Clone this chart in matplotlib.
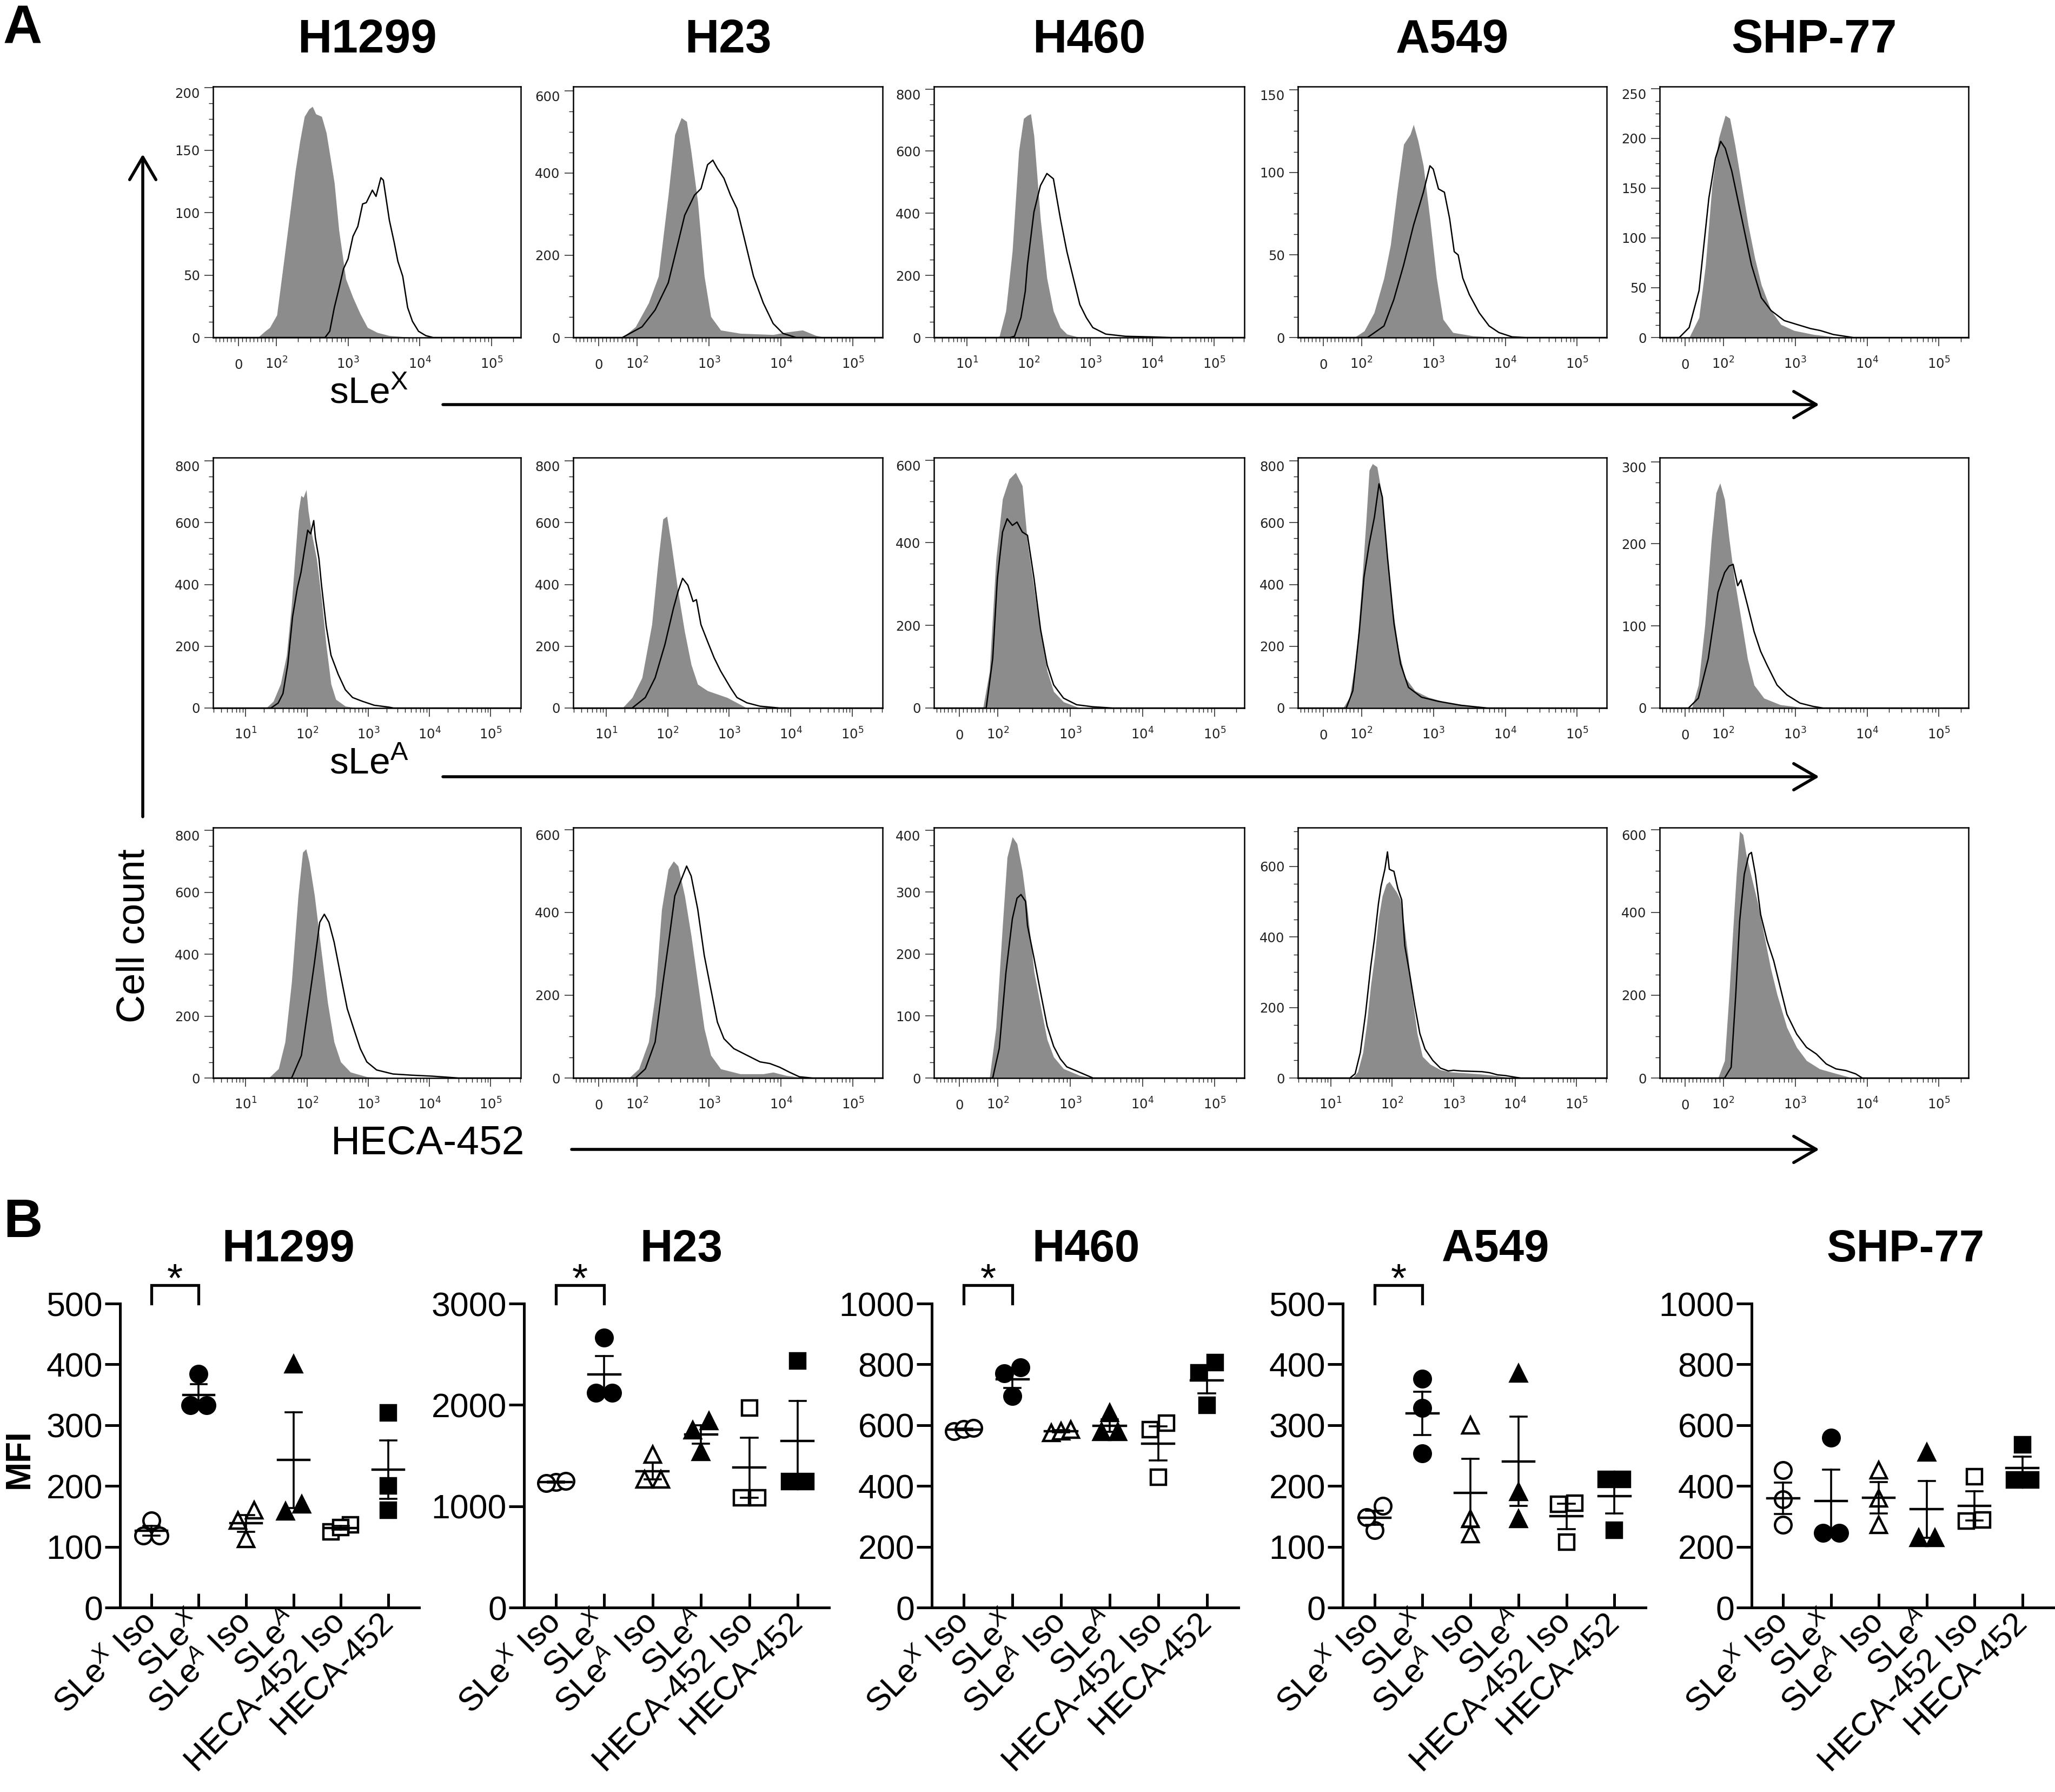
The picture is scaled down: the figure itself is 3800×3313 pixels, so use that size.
import numpy as np
import matplotlib
matplotlib.use("Agg")
import matplotlib.pyplot as plt
from matplotlib.patches import FancyArrowPatch

plt.rcParams['font.family'] = ['Liberation Sans', 'DejaVu Sans']
plt.rcParams['mathtext.fontset'] = 'custom'
plt.rcParams['mathtext.rm'] = 'Liberation Sans'
plt.rcParams['mathtext.it'] = 'Liberation Sans:italic'
plt.rcParams['mathtext.bf'] = 'Liberation Sans:bold'

# ================================================
# Data: flow histograms (x in decades, y = cell count)
# ================================================
cell_lines = ["H1299", "H23", "H460", "A549", "SHP-77"]
stains = ["sLe$^{\\mathrm{X}}$", "sLe$^{\\mathrm{A}}$", "HECA-452"]

# row 1 - sLeX
h1299_slex_iso_x = [1.74, 1.84, 1.907, 2.006, 2.103, 2.199, 2.263, 2.327, 2.391, 2.455, 2.503, 2.551, 2.631, 2.696, 2.744, 2.808, 2.872, 2.968, 3.068, 3.169, 3.271, 3.407, 3.576, 3.915]
h1299_slex_iso_y = [0, 5, 8, 18, 61, 104, 133, 157, 177, 183, 185, 179, 177, 164, 147, 124, 86, 47, 32, 19, 8, 4, 1.5, 0]
h1299_slex_x = [2.679, 2.744, 2.808, 2.872, 2.936, 3.0, 3.068, 3.136, 3.203, 3.254, 3.288, 3.339, 3.39, 3.458, 3.492, 3.576, 3.644, 3.695, 3.763, 3.831, 3.898, 3.983, 4.085, 4.186]
h1299_slex_y = [0, 5, 24, 39, 55, 63, 81, 89, 107, 108, 112, 118, 113, 128, 126, 94, 76, 61, 49, 24, 13, 5, 1.5, 0]
h23_slex_iso_x = [1.798, 1.98, 2.162, 2.299, 2.435, 2.526, 2.617, 2.69, 2.753, 2.844, 2.935, 3.026, 3.163, 3.436, 3.891, 4.073, 4.3, 4.482, 4.618]
h23_slex_iso_y = [0, 26, 84, 149, 346, 493, 534, 525, 451, 330, 149, 51, 18, 10, 7, 13, 18, 5, 0]
h23_slex_x = [1.798, 2.071, 2.253, 2.435, 2.572, 2.663, 2.799, 2.89, 2.981, 3.054, 3.117, 3.208, 3.299, 3.39, 3.481, 3.618, 3.754, 3.891, 4.027, 4.209]
h23_slex_y = [0, 26, 67, 133, 231, 297, 346, 362, 420, 431, 411, 387, 346, 313, 248, 149, 84, 34, 10, 0]
h460_slex_iso_x = [1.45, 1.525, 1.63, 1.735, 1.84, 1.918, 1.98, 2.033, 2.085, 2.19, 2.295, 2.4, 2.513, 2.618, 2.828]
h460_slex_iso_y = [0, 4, 85, 277, 600, 705, 715, 720, 650, 383, 191, 85, 32, 11, 0]
h460_slex_x = [1.7, 1.77, 1.875, 1.945, 1.98, 2.085, 2.19, 2.295, 2.4, 2.513, 2.618, 2.723, 2.828, 2.933, 3.038, 3.248, 3.565, 3.985, 4.3]
h460_slex_y = [0, 4, 64, 149, 234, 404, 489, 528, 511, 383, 277, 191, 106, 64, 32, 11, 4, 2, 0]
a549_slex_iso_x = [1.902, 2.039, 2.176, 2.313, 2.404, 2.496, 2.587, 2.678, 2.724, 2.788, 2.861, 2.952, 3.044, 3.135, 3.272, 3.546, 3.911]
a549_slex_iso_y = [0, 4, 15, 36, 56, 88, 117, 123, 129, 119, 104, 72, 36, 11, 3, 1, 0]
a549_slex_x = [2.084, 2.313, 2.45, 2.587, 2.724, 2.861, 2.952, 2.998, 3.071, 3.153, 3.226, 3.29, 3.345, 3.409, 3.5, 3.637, 3.775, 3.912, 4.094, 4.277]
a549_slex_y = [0, 7, 23, 44, 68, 88, 104, 102, 90, 88, 72, 52, 50, 36, 26, 15, 7, 3, 0.4, 0]
shp77_slex_iso_x = [1.526, 1.663, 1.754, 1.845, 1.937, 2.028, 2.092, 2.164, 2.256, 2.347, 2.438, 2.529, 2.666, 2.803, 2.985, 3.258, 3.623]
shp77_slex_iso_y = [0, 20, 73, 153, 200, 223, 220, 193, 153, 113, 80, 53, 27, 13, 7, 3, 0]
shp77_slex_x = [1.389, 1.526, 1.663, 1.8, 1.891, 1.964, 2.028, 2.119, 2.256, 2.392, 2.529, 2.666, 2.848, 3.03, 3.213, 3.35, 3.532, 3.806]
shp77_slex_y = [0, 10, 47, 140, 180, 197, 190, 167, 120, 73, 40, 27, 17, 13, 9, 7, 3, 0]

# row 2 - sLeA
h1299_slea_iso_x = [1.333, 1.451, 1.569, 1.667, 1.745, 1.804, 1.863, 1.902, 1.941, 1.988, 2.02, 2.078, 2.157, 2.235, 2.314, 2.392, 2.471, 2.627, 2.824]
h1299_slea_iso_y = [0, 22, 78, 171, 327, 483, 639, 688, 682, 707, 639, 564, 483, 358, 202, 78, 28, 6, 0]
h1299_slea_x = [1.412, 1.529, 1.608, 1.686, 1.765, 1.843, 1.902, 1.961, 2.012, 2.059, 2.11, 2.137, 2.196, 2.235, 2.314, 2.392, 2.51, 2.627, 2.745, 2.902, 3.098, 3.333, 3.412]
h1299_slea_y = [0, 16, 47, 140, 296, 389, 439, 514, 576, 564, 607, 551, 483, 402, 265, 171, 109, 59, 34, 22, 9, 3, 0]
h23_slea_iso_x = [1.265, 1.424, 1.584, 1.743, 1.85, 1.924, 1.988, 2.062, 2.169, 2.275, 2.382, 2.488, 2.648, 2.807, 2.966, 3.126, 3.286]
h23_slea_iso_y = [0, 34, 98, 270, 484, 612, 621, 527, 377, 248, 141, 77, 56, 45, 34, 17, 0]
h23_slea_x = [1.424, 1.637, 1.797, 1.956, 2.094, 2.169, 2.243, 2.328, 2.413, 2.467, 2.541, 2.647, 2.754, 2.86, 3.02, 3.126, 3.286, 3.498, 3.817]
h23_slea_y = [0, 34, 98, 206, 323, 377, 420, 398, 345, 351, 270, 216, 163, 120, 66, 34, 17, 6, 0]
h460_slea_iso_x = [1.794, 1.884, 1.975, 2.065, 2.156, 2.246, 2.338, 2.41, 2.501, 2.591, 2.682, 2.772, 2.908, 3.135]
h460_slea_iso_y = [0, 88, 361, 506, 554, 570, 538, 400, 290, 180, 90, 40, 15, 0]
h460_slea_x = [1.839, 1.929, 1.993, 2.065, 2.129, 2.201, 2.265, 2.338, 2.41, 2.501, 2.591, 2.682, 2.772, 2.908, 3.09, 3.316, 3.588]
h460_slea_y = [0, 120, 313, 426, 458, 442, 450, 426, 418, 313, 190, 104, 56, 24, 8, 3, 0]
a549_slea_iso_x = [1.744, 1.835, 1.926, 1.998, 2.062, 2.108, 2.153, 2.217, 2.29, 2.362, 2.426, 2.517, 2.608, 2.744, 2.926, 3.199, 3.563, 3.927]
a549_slea_iso_y = [0, 35, 164, 380, 597, 770, 791, 781, 683, 489, 337, 186, 99, 56, 35, 17, 6, 0]
a549_slea_x = [1.789, 1.88, 1.971, 2.035, 2.108, 2.18, 2.244, 2.29, 2.362, 2.453, 2.544, 2.653, 2.835, 3.063, 3.381, 3.745]
a549_slea_y = [0, 56, 251, 424, 532, 618, 726, 683, 489, 272, 143, 67, 35, 22, 9, 0]
shp77_slea_iso_x = [1.563, 1.654, 1.745, 1.836, 1.9, 1.955, 2.019, 2.082, 2.155, 2.247, 2.338, 2.429, 2.566, 2.794, 3.158]
shp77_slea_iso_y = [0, 28, 101, 206, 262, 274, 254, 206, 157, 109, 60, 28, 12, 4, 0]
shp77_slea_x = [1.517, 1.654, 1.791, 1.927, 2.019, 2.082, 2.137, 2.201, 2.247, 2.338, 2.429, 2.52, 2.611, 2.748, 2.885, 3.067, 3.249, 3.386]
shp77_slea_y = [0, 12, 60, 141, 165, 173, 175, 149, 156, 125, 93, 69, 52, 28, 16, 6, 2, 0]

# row 3 - HECA-452
h1299_heca_iso_x = [1.375, 1.535, 1.642, 1.749, 1.856, 1.93, 1.984, 2.037, 2.123, 2.229, 2.336, 2.443, 2.55, 2.71, 2.977, 3.404]
h1299_heca_iso_y = [0, 30, 116, 310, 589, 729, 740, 697, 589, 417, 245, 116, 52, 19, 4, 0]
h1299_heca_x = [1.749, 1.909, 2.016, 2.123, 2.208, 2.283, 2.358, 2.443, 2.55, 2.657, 2.763, 2.87, 2.977, 3.137, 3.404, 3.725, 4.045, 4.472]
h1299_heca_y = [0, 73, 224, 374, 503, 529, 503, 439, 331, 224, 159, 95, 52, 26, 13, 9, 6, 0]
h23_heca_iso_x = [1.889, 2.026, 2.162, 2.253, 2.344, 2.435, 2.508, 2.572, 2.663, 2.753, 2.844, 2.935, 3.026, 3.163, 3.436, 3.754, 3.891, 4.073, 4.345]
h23_heca_iso_y = [0, 22, 87, 199, 408, 504, 524, 512, 440, 344, 231, 119, 55, 22, 10, 10, 14, 6, 0]
h23_heca_x = [1.98, 2.117, 2.253, 2.362, 2.453, 2.526, 2.617, 2.69, 2.753, 2.844, 2.935, 3.026, 3.117, 3.208, 3.345, 3.527, 3.709, 3.845, 3.982, 4.118, 4.254, 4.436]
h23_heca_y = [0, 22, 87, 231, 344, 440, 480, 512, 488, 408, 296, 215, 135, 95, 71, 55, 39, 35, 26, 14, 3, 0]
h460_heca_iso_x = [1.884, 1.975, 2.065, 2.129, 2.201, 2.265, 2.338, 2.41, 2.501, 2.591, 2.682, 2.772, 2.908, 3.135, 3.316]
h460_heca_iso_y = [0, 81, 246, 356, 389, 378, 334, 270, 171, 116, 62, 34, 15, 4, 0]
h460_heca_x = [1.929, 2.02, 2.111, 2.201, 2.265, 2.32, 2.383, 2.41, 2.501, 2.591, 2.682, 2.772, 2.863, 2.954, 3.135, 3.316]
h460_heca_y = [0, 48, 169, 257, 290, 296, 285, 246, 193, 138, 84, 51, 31, 18, 9, 0]
a549_heca_iso_x = [1.356, 1.44, 1.524, 1.587, 1.651, 1.714, 1.777, 1.84, 1.903, 1.954, 2.008, 2.072, 2.135, 2.198, 2.261, 2.324, 2.408, 2.493, 2.619, 2.787, 2.956, 3.377, 3.629, 3.798, 4.008]
a549_heca_iso_y = [0, 17, 72, 153, 261, 343, 451, 516, 549, 557, 543, 527, 505, 429, 343, 234, 126, 61, 39, 23, 17, 12, 8, 4, 0]
a549_heca_x = [1.314, 1.398, 1.482, 1.566, 1.651, 1.714, 1.777, 1.819, 1.882, 1.924, 1.954, 1.987, 2.029, 2.093, 2.156, 2.206, 2.282, 2.366, 2.451, 2.535, 2.661, 2.787, 2.914, 2.998, 3.124, 3.461, 3.587, 3.714, 3.84, 4.008, 4.093]
a549_heca_y = [0, 12, 72, 180, 315, 397, 494, 543, 592, 641, 592, 589, 586, 537, 505, 375, 299, 207, 126, 82, 50, 28, 20, 22, 20, 18, 15, 9, 7, 2, 0]
shp77_heca_iso_x = [1.927, 2.019, 2.082, 2.137, 2.183, 2.228, 2.274, 2.319, 2.383, 2.474, 2.566, 2.657, 2.748, 2.885, 3.021, 3.158, 3.341, 3.523, 3.796]
shp77_heca_iso_y = [0, 42, 202, 363, 492, 596, 588, 540, 492, 427, 347, 267, 202, 122, 74, 42, 22, 13, 0]
shp77_heca_x = [2.019, 2.11, 2.174, 2.228, 2.292, 2.356, 2.392, 2.447, 2.52, 2.611, 2.702, 2.794, 2.885, 3.021, 3.158, 3.295, 3.432, 3.568, 3.705, 3.842, 3.933]
shp77_heca_y = [0, 26, 202, 379, 492, 540, 545, 492, 395, 331, 283, 218, 154, 106, 74, 58, 34, 22, 18, 10, 0]

# axis type and y ticks of each histogram (rows = stains, cols = cell lines)
hist_scale = [["biex", "biex", "log", "biex", "biex"],
              ["log", "log", "biex", "biex", "biex"],
              ["log", "biex", "biex", "log", "biex"]]
hist_ymax = [[200, 600, 800, 150, 250],
             [800, 800, 600, 800, 300],
             [800, 600, 400, 600, 600]]
hist_ystep = [[50, 200, 200, 50, 50],
              [200, 200, 200, 200, 100],
              [200, 200, 100, 200, 200]]
hist_ytop = [[201, 610, 808, 152, 252],
             [811, 811, 606, 811, 305],
             [809, 605, 404, 710, 605]]

# ================================================
# Data: MFI (three experiments per group)
# ================================================
groups = ["SLe$^{\\mathit{X}}$ Iso", "SLe$^{\\mathit{X}}$", "SLe$^{\\mathit{A}}$ Iso",
          "SLe$^{\\mathit{A}}$", "HECA-452 Iso", "HECA-452"]
mfi_h1299 = [[143, 118, 118], [384, 333, 333], [160, 143, 113], [400, 158, 170], [136, 125, 132], [320, 200, 160]]
mfi_h23 = [[1240, 1230, 1250], [2665, 2120, 2120], [1510, 1265, 1265], [1840, 1750, 1535], [1972, 1085, 1085], [2434, 1246, 1246]]
mfi_h460 = [[580, 588, 590], [790, 770, 695], [575, 580, 585], [640, 578, 578], [606, 585, 428], [806, 772, 665]]
mfi_a549 = [[167, 127, 149], [376, 328, 254], [300, 146, 121], [385, 190, 146], [172, 170, 108], [211, 211, 127]]
mfi_shp77 = [[452, 355, 273], [559, 245, 245], [452, 360, 272], [510, 230, 230], [430, 288, 285], [535, 420, 420]]
mfi_ymax = [500, 3000, 1000, 500, 1000]
mfi_ystep = [100, 1000, 200, 100, 200]
significant = [True, True, True, True, False]

# ================================================
# Layout (pixels of the 3800 x 3313 canvas)
# ================================================
W, H = 3800, 3313
COL_L = [394, 1060, 1727, 2400, 3069]
COL_R = [963, 1632, 2301, 2971, 3640]
ROW_T = [160, 846, 1530]
ROW_B = [624, 1309, 1993]
MFI_L = [222, 969, 1723, 2483, 3239]
MFI_R = [775, 1533, 2290, 3043, 3797]
MFI_T, MFI_B = 2410, 2972
BIEX_LIM = (1.116, 5.41)
LOG_LIM = (0.467, 5.49)
BIEX_ZERO = 1.47
MFI_XLIM = (-0.66, 5.65)
GRAY = "#8c8c8c"

fig = plt.figure(figsize=(W / 100, H / 100), dpi=100)


def px_axes(l, t, r, b):
    return fig.add_axes([l / W, 1 - b / H, (r - l) / W, (b - t) / H])


def ftext(x, y, s, **kw):
    fig.text(x / W, 1 - y / H, s, **kw)


def arrow(x0, y0, x1, y1):
    fig.add_artist(FancyArrowPatch((x0 / W, 1 - y0 / H), (x1 / W, 1 - y1 / H),
                                   transform=fig.transFigure,
                                   arrowstyle="->,head_length=0.6,head_width=0.35",
                                   mutation_scale=50, lw=4, color="black",
                                   shrinkA=0, shrinkB=0))


def hist_panel(ax, scale, ymax, ystep, ytop, iso_x, iso_y, ab_x, ab_y):
    lim = BIEX_LIM if scale == "biex" else LOG_LIM
    ax.set_xlim(lim)
    ax.set_ylim(0, ytop)
    ax.fill_between([lim[0]] + iso_x + [lim[1]], [0] + iso_y + [0],
                    color=GRAY, lw=0, zorder=1)
    ax.plot([lim[0]] + ab_x + [lim[1]], [0] + ab_y + [0], color="black",
            lw=1.8, zorder=2)
    for sp in ax.spines.values():
        sp.set_linewidth(1.8)
    # x ticks
    if scale == "biex":
        major = [BIEX_ZERO, 2, 3, 4, 5]
        labels = ["0"] + ["$\\mathregular{10^{%d}}$" % d for d in range(2, 6)]
        minor = [BIEX_ZERO + s * 0.53 * v / 100 for v in range(10, 100, 10) for s in (1, -1)]
        minor += [d + np.log10(k) for d in range(2, 6) for k in range(2, 10)]
    else:
        major = [1, 2, 3, 4, 5]
        labels = ["$\\mathregular{10^{%d}}$" % d for d in range(1, 6)]
        minor = [d + np.log10(k) for d in range(0, 6) for k in range(2, 10)]
    minor = [m for m in minor if lim[0] < m < lim[1]]
    ax.set_xticks(major)
    ax.set_xticklabels(labels, fontfamily="DejaVu Sans")
    ax.set_xticks(minor, minor=True)
    yt = list(range(0, ymax + 1, ystep))
    ax.set_yticks(yt)
    ax.set_yticklabels([str(v) for v in yt], fontfamily="DejaVu Sans")
    ax.set_yticks([v for v in np.arange(0, ytop, ystep / 4) if v not in yt], minor=True)
    ax.tick_params(axis="both", which="major", direction="out", length=11.5,
                   width=1.1, labelsize=17.5, colors="#222222")
    ax.tick_params(axis="both", which="minor", direction="out", length=5.5,
                   width=1.0, colors="#222222")
    ax.tick_params(axis="y", pad=6)
    ax.tick_params(axis="x", pad=30)
    for lab in ax.get_xticklabels():
        lab.set_verticalalignment("baseline")
    if ytop - ymax < 0.03 * ytop:
        ax.get_yticklabels()[-1].set_verticalalignment("top")


def swarm_offsets(vals, unit_px, d_px):
    order = np.argsort(vals, kind="stable")
    offs = np.zeros(len(vals))
    rows = []
    for i in order:
        if rows and (vals[i] - vals[rows[-1][0]]) * unit_px < 0.8 * d_px:
            rows[-1].append(i)
        else:
            rows.append([i])
    for row in rows:
        n = len(row)
        if n == 1:
            continue
        half = min(0.5 * d_px * (n - 1), 0.6 * d_px)
        for k, i in enumerate(row):
            offs[i] = -half + 2 * half * k / (n - 1)
    return offs


MARKERS = ["o", "o", "^", "^", "s", "s"]
MSIZE = [22, 22, 22, 22, 20, 20]
OPEN = [True, False, True, False, True, False]


def mfi_panel(ax, data, ymax, ystep, width_px, star):
    ax.set_xlim(MFI_XLIM)
    ax.set_ylim(0, ymax)
    unit_px = (MFI_B - MFI_T) / ymax
    cat_px = width_px / (MFI_XLIM[1] - MFI_XLIM[0])
    for i, vals in enumerate(data):
        vals = np.array(vals, dtype=float)
        offs = swarm_offsets(vals, unit_px, 30) / cat_px
        ax.plot(i + offs, vals, ls="none", marker=MARKERS[i], ms=MSIZE[i],
                mfc="white" if OPEN[i] else "black", mec="black", mew=3.2,
                clip_on=False, zorder=3)
        m = vals.mean()
        s = vals.std(ddof=1) / np.sqrt(len(vals))
        ax.plot([i - 0.33, i + 0.33], [m, m], color="black", lw=3.2, zorder=4)
        ax.plot([i, i], [m - s, m + s], color="black", lw=2.6, zorder=4)
        for e in (m - s, m + s):
            ax.plot([i - 0.17, i + 0.17], [e, e], color="black", lw=2.6, zorder=4)
    for side in ("top", "right"):
        ax.spines[side].set_visible(False)
    for side in ("left", "bottom"):
        ax.spines[side].set_linewidth(3.6)
    ax.set_yticks(range(0, ymax + 1, ystep))
    ax.set_xticks(range(len(data)))
    ax.set_xticklabels(groups, rotation=45, ha="right", rotation_mode="anchor",
                       va="center")
    ax.tick_params(axis="y", direction="out", length=20, width=3.6, labelsize=45, pad=3)
    ax.tick_params(axis="x", direction="in", length=19, width=3.6, labelsize=44, pad=14)
    if star:
        ax.plot([0, 0, 1, 1], [ymax, ymax * 1.06, ymax * 1.06, ymax], color="black",
                lw=3.8, clip_on=False, solid_joinstyle="miter")
        ax.text(0.5, ymax * 1.04, "*", ha="center", va="baseline", fontsize=54)


# ================================================
# Panel A
# ================================================
ftext(42, 55, "A", ha="center", va="center", fontsize=72, fontweight="bold")
for c, name in enumerate(cell_lines):
    ftext((COL_L[c] + COL_R[c]) / 2, 75, name, ha="center", va="center",
          fontsize=63, fontweight="bold")

curves = [
    [(h1299_slex_iso_x, h1299_slex_iso_y, h1299_slex_x, h1299_slex_y),
     (h23_slex_iso_x, h23_slex_iso_y, h23_slex_x, h23_slex_y),
     (h460_slex_iso_x, h460_slex_iso_y, h460_slex_x, h460_slex_y),
     (a549_slex_iso_x, a549_slex_iso_y, a549_slex_x, a549_slex_y),
     (shp77_slex_iso_x, shp77_slex_iso_y, shp77_slex_x, shp77_slex_y)],
    [(h1299_slea_iso_x, h1299_slea_iso_y, h1299_slea_x, h1299_slea_y),
     (h23_slea_iso_x, h23_slea_iso_y, h23_slea_x, h23_slea_y),
     (h460_slea_iso_x, h460_slea_iso_y, h460_slea_x, h460_slea_y),
     (a549_slea_iso_x, a549_slea_iso_y, a549_slea_x, a549_slea_y),
     (shp77_slea_iso_x, shp77_slea_iso_y, shp77_slea_x, shp77_slea_y)],
    [(h1299_heca_iso_x, h1299_heca_iso_y, h1299_heca_x, h1299_heca_y),
     (h23_heca_iso_x, h23_heca_iso_y, h23_heca_x, h23_heca_y),
     (h460_heca_iso_x, h460_heca_iso_y, h460_heca_x, h460_heca_y),
     (a549_heca_iso_x, a549_heca_iso_y, a549_heca_x, a549_heca_y),
     (shp77_heca_iso_x, shp77_heca_iso_y, shp77_heca_x, shp77_heca_y)],
]

for r in range(3):
    for c in range(5):
        ax = px_axes(COL_L[c], ROW_T[r], COL_R[c], ROW_B[r])
        hist_panel(ax, hist_scale[r][c], hist_ymax[r][c], hist_ystep[r][c],
                   hist_ytop[r][c], *curves[r][c])

# axis arrows and labels
arrow(264, 1510, 264, 285)
ftext(248, 1730, "Cell count", rotation=90, ha="center", va="center", fontsize=52)
ftext(609, 745, stains[0], ha="left", va="baseline", fontsize=50)
arrow(819, 748, 3364, 748)
ftext(609, 1430, stains[1], ha="left", va="baseline", fontsize=50)
arrow(819, 1436, 3364, 1436)
ftext(612, 2134, stains[2], ha="left", va="baseline", fontsize=54)
arrow(1057, 2125, 3364, 2125)

# ================================================
# Panel B
# ================================================
ftext(42, 2261, "B", ha="center", va="center", fontsize=72, fontweight="bold")
ftext(36, 2697, "MFI", rotation=90, ha="center", va="center", fontsize=46,
      fontweight="bold")
mfi_all = [mfi_h1299, mfi_h23, mfi_h460, mfi_a549, mfi_shp77]
title_x = [533, 1260, 2008, 2766, 3524]
for k, name in enumerate(cell_lines):
    ax = px_axes(MFI_L[k], MFI_T, MFI_R[k], MFI_B)
    mfi_panel(ax, mfi_all[k], mfi_ymax[k], mfi_ystep[k], MFI_R[k] - MFI_L[k],
              significant[k])
    ftext(title_x[k], 2310, name, ha="center", va="center", fontsize=60,
          fontweight="bold")

fig.savefig("out.png", dpi=100)
